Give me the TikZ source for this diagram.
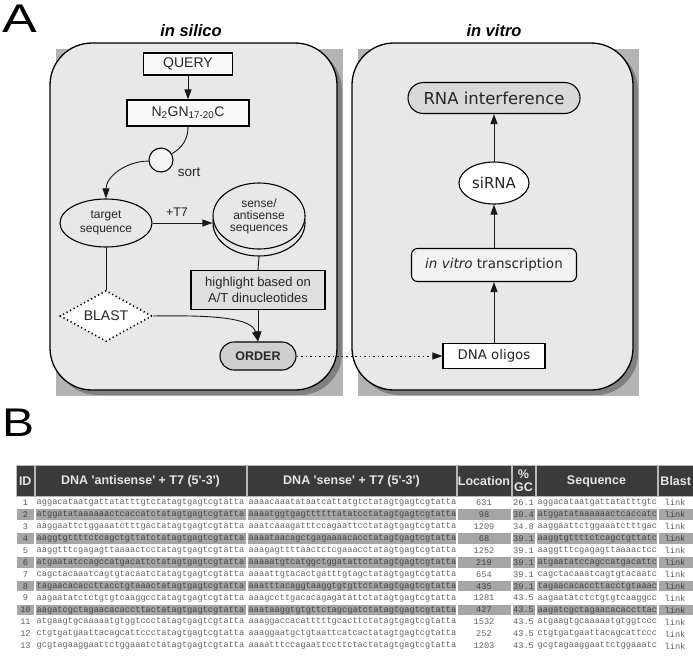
\documentclass[tikz,border=0pt]{standalone}
\usepackage{fontspec}
\setmainfont{Liberation Sans}
\setmonofont{Liberation Mono}
\newfontfamily\arialf{Liberation Sans}
\newfontfamily\dejavu{DejaVu Sans}
\usetikzlibrary{shapes.geometric,arrows.meta}
\definecolor{panelfill}{HTML}{E8E8E8}
\definecolor{shadowc}{HTML}{808080}
\definecolor{hdr}{HTML}{3A3A3A}
\definecolor{hdrsep}{HTML}{B8B8B8}
\definecolor{rowgray}{HTML}{A6A6A6}
\definecolor{txtw}{HTML}{626262}
\definecolor{txtg}{HTML}{444444}
\begin{document}
\begin{tikzpicture}[x=1pt,y=-1pt,
  arr/.style={-{Triangle[length=10pt,width=7pt]}},
  conn/.style={draw=black!90, line width=0.9pt},
  nbox/.style={draw=black, line width=1.1pt, fill=#1, inner sep=0pt, text=black!85},
  nbox/.default=white,
  panel/.style={draw=black, line width=1.3pt, fill=panelfill, rounded corners=42pt},
  pshadow/.style={fill=shadowc, rounded corners=42pt},
  title/.style={font=\bfseries\itshape\fontsize{16.5}{18}\selectfont},
  biglab/.style={font=\fontsize{40}{40}\selectfont, inner sep=0pt},
  hdrtxt/.style={text=white!90!black, font=\arialf\bfseries\fontsize{12.5}{13}\selectfont, align=center, inner sep=0pt},
  mono/.style={font=\ttfamily\fontsize{8.65}{10}\selectfont, inner sep=0pt}]
\useasboundingbox (0,0) rectangle (693,657);

% ---------- Panel A ----------
\node[biglab, xscale=1.3] (labA) at (20,19) {A};
\node[title] (tsil) at (191,31) {in silico};
\node[title] (tvit) at (494,31) {in vitro};

\fill[shadowc!60] (56,49) rectangle (343,396);
\fill[pshadow] (55,48) rectangle (342,395);
\draw[panel] (50,43) rectangle (337,390);
\fill[shadowc!60] (358,49) rectangle (639,396);
\fill[pshadow] (357,48) rectangle (638,395);
\draw[panel] (352,43) rectangle (633,390);

% left panel nodes
\node[nbox=gray!5, minimum width=89pt, minimum height=22pt, font=\fontsize{14}{16}\selectfont] (query) at (188,64) {QUERY};
\node[nbox=gray!5, minimum width=122pt, minimum height=26pt, font=\fontsize{14}{16}\selectfont] (n2gn) at (188,113) {N\textsubscript{2}GN\textsubscript{17-20}C};
\node[nbox=gray!8, circle, minimum size=24pt] (sort) at (161,160) {};
\node[font=\fontsize{13.5}{15}\selectfont, text=black!85, inner sep=0pt] (sortl) at (189,172) {sort};
\node[nbox=panelfill, ellipse, minimum width=92pt, minimum height=48pt, align=center, font=\fontsize{12}{14}\selectfont] (target) at (106,223) {target\\sequence};
\node[nbox=panelfill, ellipse, minimum width=92pt, minimum height=66pt] (senseb) at (259,223) {};
\node[nbox=panelfill, ellipse, minimum width=92pt, minimum height=66pt, align=center, font=\fontsize{12}{12}\selectfont] (sense) at (259,216) {sense/\\antisense\\sequences};
\node[nbox=gray!25, minimum width=134pt, minimum height=39pt, align=center, font=\fontsize{13}{15.5}\selectfont] (hl) at (258,290) {highlight based on\\A/T dinucleotides};
\node[nbox=gray!38, rounded corners=14pt, minimum width=76pt, minimum height=28pt, font=\bfseries\fontsize{12.5}{14}\selectfont] (order) at (258,356) {ORDER};
\node[diamond, aspect=2, draw=black, line width=1.6pt, dash pattern=on 1.2pt off 2.8pt, fill=white, minimum width=92pt, minimum height=51pt, inner sep=0pt, font=\fontsize{14}{16}\selectfont, text=black!85] (blast) at (106,316) {BLAST};
\node[font=\fontsize{12.5}{14}\selectfont, text=black!85, inner sep=0pt] (t7) at (177,212) {+T7};

% right panel nodes
\node[nbox=gray!30, rounded corners=15.5pt, minimum width=172pt, minimum height=31pt, font=\dejavu\fontsize{16.5}{18}\selectfont] (rnai) at (494,98) {RNA interference};
\node[nbox=white, ellipse, minimum width=70pt, minimum height=42pt, font=\dejavu\fontsize{15}{17}\selectfont] (sirna) at (494,183) {siRNA};
\node[nbox=gray!10, rounded corners=6pt, minimum width=165pt, minimum height=33pt, font=\dejavu\fontsize{13.5}{15}\selectfont] (ivt) at (494,265) {\textit{in vitro} transcription};
\node[nbox=white, minimum width=102pt, minimum height=25pt, font=\dejavu\fontsize{13.3}{15}\selectfont] (oligos) at (494,356) {DNA oligos};

% connectors
\draw[conn, arr] (query) -- (n2gn);
\draw[conn] (n2gn.south) to[out=-90,in=30] (sort.30);
\draw[conn, arr] (sort.185) to[out=180,in=90] (target.north);
\draw[conn, arr] (target.east) -- (target.east -| sense.west);
\draw[conn] (senseb.south) -- (hl.north);
\draw[conn, arr] (hl.south) -- (order.north);
\draw[conn] (target.south) -- (blast.north);
\draw[conn, arr] (blast.east) .. controls (215,315) and (252,318) .. (order.north);
\draw[conn, dash pattern=on 1.5pt off 3pt, arr] (order.east) -- (oligos.west);
\draw[conn, arr] (oligos.north) -- (ivt.south);
\draw[conn, arr] (ivt.north) -- (sirna.south);
\draw[conn, arr] (sirna.north) -- (rnai.south);

% ---------- Panel B ----------
\node[biglab, xscale=1.2] (labB) at (19,423) {B};

\fill[hdrsep] (16,465) rectangle (693,497);
\foreach \xa/\xb/\nm/\t in {17/33.5/hid/ID, 35.5/245.5/has/{DNA 'antisense' + T7 (5'-3')}, 247.5/455.5/hss/{DNA 'sense' + T7 (5'-3')}, 457.5/510.5/hloc/Location, 512.5/534.5/hgc/{\%\\GC}, 536.5/656.5/hseq/Sequence, 658.5/693/hbl/Blast}{
  \fill[hdr] (\xa,466) rectangle (\xb,496);
  \node[hdrtxt] (\nm) at ({(\xa+\xb)/2},481) {\t};
}

\foreach \i/\a/\s/\l/\g/\q in {
1/aggacataatgattatatttgtctatagtgagtcgtatta/aaaacaaatataatcattatgtctatagtgagtcgtatta/631/26.1/aggacataatgattatatttgtc,
2/atggatataaaaaactcaccatctatagtgagtcgtatta/aaaatggtgagttttttatatcctatagtgagtcgtatta/98/30.4/atggatataaaaaactcaccatc,
3/aaggaattctggaaatctttgactatagtgagtcgtatta/aaatcaaagatttccagaattcctatagtgagtcgtatta/1209/34.8/aaggaattctggaaatctttgac,
4/aaggtgttttctcagctgttatctatagtgagtcgtatta/aaaataacagctgagaaaacacctatagtgagtcgtatta/68/39.1/aaggtgttttctcagctgttatc,
5/aaggtttcgagagttaaaactcctatagtgagtcgtatta/aaagagttttaactctcgaaacctatagtgagtcgtatta/1252/39.1/aaggtttcgagagttaaaactcc,
6/atgaatatccagccatgacattctatagtgagtcgtatta/aaaaatgtcatggctggatattctatagtgagtcgtatta/219/39.1/atgaatatccagccatgacattc,
7/cagctacaaatcagtgtacaatctatagtgagtcgtatta/aaaattgtacactgatttgtagctatagtgagtcgtatta/654/39.1/cagctacaaatcagtgtacaatc,
8/tagaacacaccttacctgtaaactatagtgagtcgtatta/aaatttacaggtaaggtgtgttctatagtgagtcgtatta/435/39.1/tagaacacaccttacctgtaaac,
9/aagaatatctctgtgtcaaggcctatagtgagtcgtatta/aaagccttgacacagagatattctatagtgagtcgtatta/1281/43.5/aagaatatctctgtgtcaaggcc,
10/aagatcgctagaacacaccttactatagtgagtcgtatta/aaataaggtgtgttctagcgatctatagtgagtcgtatta/427/43.5/aagatcgctagaacacaccttac,
11/atgaagtgcaaaaatgtggtccctatagtgagtcgtatta/aaaggaccacatttttgcacttctatagtgagtcgtatta/1532/43.5/atgaagtgcaaaaatgtggtccc,
12/ctgtgatgaattacagcattccctatagtgagtcgtatta/aaaggaatgctgtaattcatcactatagtgagtcgtatta/252/43.5/ctgtgatgaattacagcattccc,
13/gcgtagaaggaattctggaaatctatagtgagtcgtatta/aaaatttccagaattccttctactatagtgagtcgtatta/1203/43.5/gcgtagaaggaattctggaaatc}{
  \pgfmathsetmacro\yy{502.5+11.95*(\i-1)}
  \pgfmathtruncatemacro\shade{(mod(\i,2)==0 && \i<11) ? 1 : 0}
  \ifnum\shade=1
    \foreach \xa/\xb in {17/33.5, 35.5/245.5, 247.5/455.5, 457.5/510.5, 512.5/534.5, 536.5/656.5, 658.5/693}{
      \fill[rowgray] (\xa,\yy-5.3) rectangle (\xb,\yy+5.3);
    }
    \def\tc{txtg}
  \else
    \def\tc{txtw}
  \fi
  \node[mono, text=\tc] (id\i) at (25.5,\yy) {\i};
  \node[mono, text=\tc, anchor=west] (as\i) at (36.5,\yy) {\a};
  \node[mono, text=\tc, anchor=west] (ss\i) at (248.5,\yy) {\s};
  \node[mono, text=\tc] (loc\i) at (484,\yy) {\l};
  \node[mono, text=\tc] (gc\i) at (523.5,\yy) {\g};
  \node[mono, text=\tc, anchor=west] (sq\i) at (537.5,\yy) {\q};
  \node[mono, text=\tc] (bl\i) at (675,\yy) {link};
}
\end{tikzpicture}
\end{document}
